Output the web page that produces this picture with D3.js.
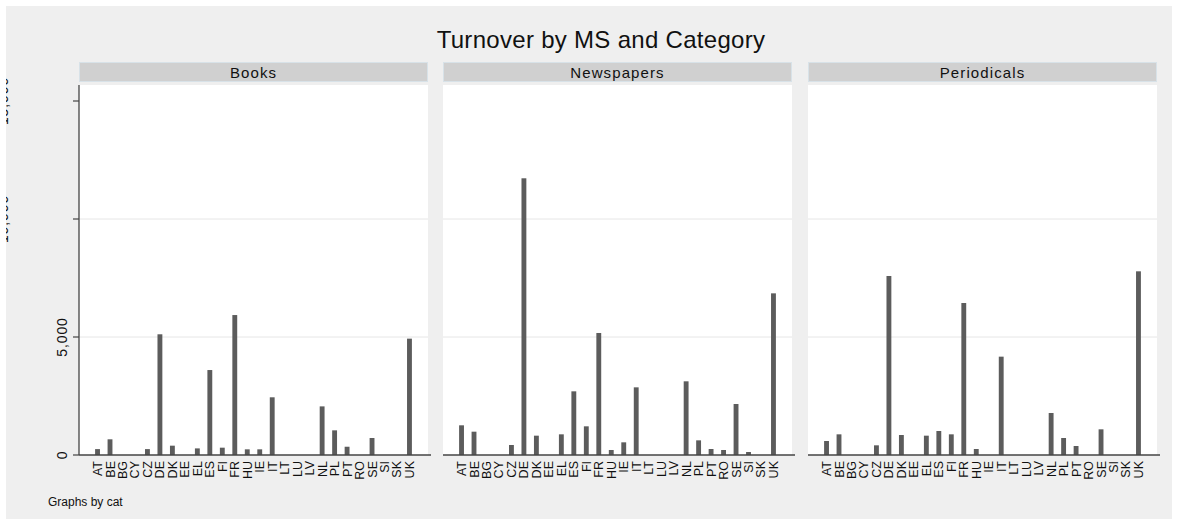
<!DOCTYPE html>
<html>
<head>
<meta charset="utf-8">
<script src="https://cdn.jsdelivr.net/npm/d3@7"></script>
<style>
  body { margin: 0; background: #fff; }
  svg { display: block; font-family: "Liberation Sans", Arial, sans-serif; }
</style>
</head>
<body>
<div id="chart"></div>
<script>
// member states on the x axis
var categories = ['AT', 'BE', 'BG', 'CY', 'CZ', 'DE', 'DK', 'EE', 'EL', 'ES', 'FI', 'FR', 'HU',
  'IE', 'IT', 'LT', 'LU', 'LV', 'NL', 'PL', 'PT', 'RO', 'SE', 'SI', 'SK', 'UK'];
// panel names
var panelNames = ['Books', 'Newspapers', 'Periodicals'];
// turnover per panel, same order as categories
var books = [250, 665, 0, 0, 250, 5115, 395, 0, 280, 3600, 310, 5930, 240,
  240, 2445, 0, 0, 0, 2060, 1045, 350, 0, 720, 0, 0, 4930];
var newspapers = [1258, 988, 0, 0, 424, 11725, 819, 0, 876, 2698, 1215, 5170, 212,
  537, 2867, 0, 0, 0, 3122, 621, 254, 212, 2161, 127, 0, 6850];
var periodicals = [593, 876, 0, 0, 410, 7585, 847, 0, 819, 1017, 876, 6440, 254,
  0, 4167, 0, 0, 0, 1780, 720, 381, 0, 1088, 0, 0, 7783];
// y axis
var yTicks = [0, 5000, 10000, 15000];
var yTickLabels = ['0', '5,000', '10,000', '15,000'];
var yGrid = [5000, 10000];

var width = 1178, height = 525;
var svg = d3.select('#chart').append('svg')
  .attr('width', width).attr('height', height);

// graph region
svg.append('defs').append('clipPath').attr('id', 'region')
  .append('rect').attr('x', 6).attr('y', 6).attr('width', 1166).attr('height', 513);
var root = svg.append('g').attr('clip-path', 'url(#region)');
root.append('rect').attr('x', 6).attr('y', 6).attr('width', 1166).attr('height', 513)
  .attr('fill', '#efefef');

// title
root.append('text')
  .attr('x', 601).attr('y', 48)
  .attr('text-anchor', 'middle')
  .attr('font-size', 24)
  .attr('letter-spacing', 0.3)
  .attr('fill', '#111')
  .text('Turnover by MS and Category');

var panelLeft = [79, 443, 808], panelW = 349;
var plotTop = 85, plotBottom = 455;
var seriesList = [books, newspapers, periodicals];

var y = d3.scaleLinear().domain([0, 15000]).range([455, 101]);

panelNames.forEach(function (name, p) {
  var x0 = panelLeft[p];
  var x = d3.scaleBand()
    .domain(categories)
    .range([x0, x0 + panelW])
    .paddingInner(0.61)
    .paddingOuter(1.29);
  var g = root.append('g').classed('panel', true);

  // strip
  g.append('rect')
    .attr('x', x0 + 0.5).attr('y', 62.5)
    .attr('width', panelW - 1).attr('height', 19)
    .attr('fill', '#d0d0d0')
    .attr('stroke', '#d8e2e8');
  g.append('text')
    .attr('x', x0 + panelW / 2).attr('y', 77.5)
    .attr('text-anchor', 'middle')
    .attr('font-size', 15)
    .attr('letter-spacing', 1.1)
    .attr('fill', '#111')
    .text(name);

  // plot area
  g.append('rect')
    .attr('x', x0).attr('y', plotTop)
    .attr('width', panelW).attr('height', plotBottom - plotTop)
    .attr('fill', '#fff');

  // gridlines
  g.selectAll('line.grid')
    .data(yGrid)
    .enter()
    .append('line')
    .attr('class', 'grid')
    .attr('x1', x0).attr('x2', x0 + panelW)
    .attr('y1', function (d) { return y(d); })
    .attr('y2', function (d) { return y(d); })
    .attr('stroke', '#e6e6e6')
    .attr('stroke-width', 1);

  // bars
  var values = seriesList[p];
  g.selectAll('rect.bar')
    .data(categories)
    .enter()
    .append('rect')
    .attr('class', 'bar')
    .attr('x', function (d) { return x(d); })
    .attr('width', x.bandwidth())
    .attr('y', function (d, i) { return y(values[i]); })
    .attr('height', function (d, i) { return y(0) - y(values[i]); })
    .attr('fill', '#5c5c5c');

  // x axis
  g.append('line')
    .attr('x1', x0).attr('x2', x0 + panelW + 3)
    .attr('y1', y(0)).attr('y2', y(0))
    .attr('stroke', '#444').attr('stroke-width', 1.3);
  g.selectAll('text.xlab')
    .data(categories)
    .enter()
    .append('text')
    .attr('class', 'xlab')
    .attr('transform', function (d) {
      return 'translate(' + (x(d) + x.bandwidth() / 2 + 4.5) + ',' + 461 + ') rotate(-90)';
    })
    .attr('text-anchor', 'end')
    .attr('font-size', 12.5)
    .attr('fill', '#111')
    .text(function (d) { return d; });
});

// y axis, left panel only
var ya = root.append('g').classed('yaxis', true);
ya.append('line')
  .attr('x1', 79).attr('x2', 79)
  .attr('y1', plotTop).attr('y2', y(0))
  .attr('stroke', '#444').attr('stroke-width', 1.3);
ya.selectAll('line.tick')
  .data(yTicks)
  .enter()
  .append('line')
  .attr('class', 'tick')
  .attr('x1', 73).attr('x2', 79)
  .attr('y1', function (d) { return y(d); })
  .attr('y2', function (d) { return y(d); })
  .attr('stroke', '#444').attr('stroke-width', 1.2);
// the long labels sit almost outside the graph region, as in the source
ya.selectAll('text')
  .data(yTicks)
  .enter()
  .append('text')
  .attr('transform', function (d, i) {
    var tx = yTickLabels[i].length > 5 ? 8 : 67;
    return 'translate(' + tx + ',' + y(d) + ') rotate(-90)';
  })
  .attr('text-anchor', 'middle')
  .attr('font-size', 14)
  .attr('letter-spacing', 0.9)
  .attr('fill', '#111')
  .text(function (d, i) { return yTickLabels[i]; });

root.append('text')
  .attr('x', 48).attr('y', 506)
  .attr('font-size', 12)
  .attr('fill', '#111')
  .text('Graphs by cat');
</script>
</body>
</html>
